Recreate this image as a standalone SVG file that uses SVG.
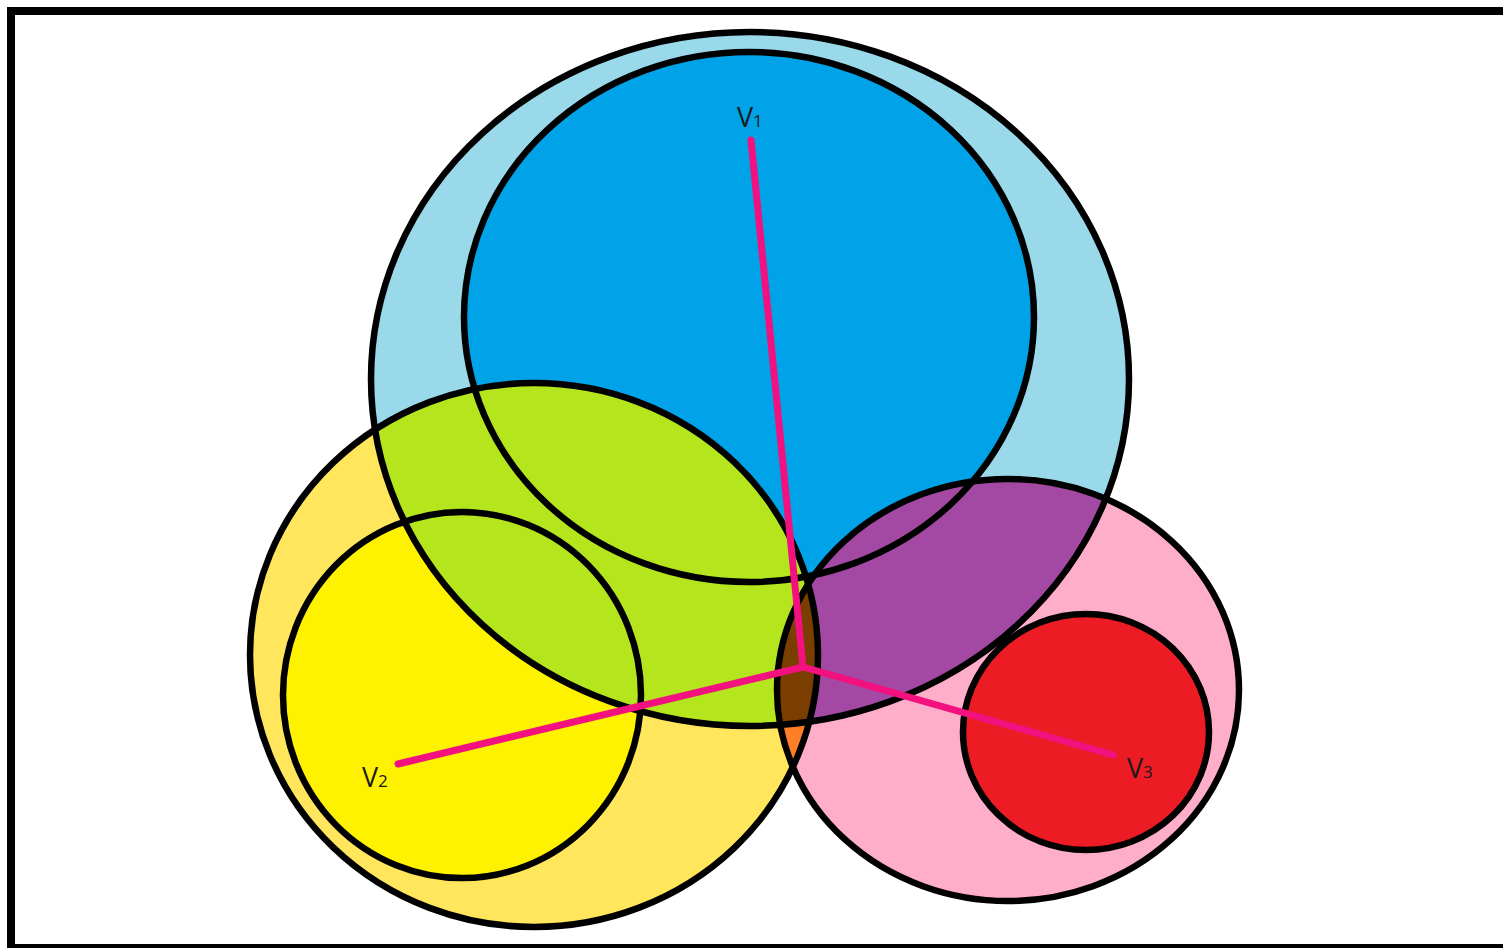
<svg xmlns="http://www.w3.org/2000/svg" width="1503" height="948" viewBox="0 0 1503 948">
  <style>
    .ol { fill: none; stroke: #000; stroke-width: 6.5; }
    .ln { stroke: #F2117E; stroke-width: 7; stroke-linecap: round; fill: none; }
    .lbl { font-family: "Open Sans", "Liberation Sans", Arial, sans-serif; font-size: 27px; fill: #1a1a1a; }
    .sub { font-size: 17px; }
  </style>
  <defs>
    <ellipse id="eLB" cx="750" cy="379" rx="379" ry="347"/>
    <ellipse id="eB" cx="749" cy="317" rx="285" ry="265"/>
    <ellipse id="eYB" cx="534" cy="655" rx="284" ry="272"/>
    <ellipse id="eYI" cx="462" cy="695" rx="179" ry="183"/>
    <ellipse id="eP" cx="1008" cy="690" rx="231" ry="211"/>
    <ellipse id="eR" cx="1086" cy="732" rx="123" ry="118"/>
    <clipPath id="cLB"><use href="#eLB"/></clipPath>
    <clipPath id="cP"><use href="#eP"/></clipPath>
  </defs>
  <rect x="0" y="0" width="1503" height="948" fill="#fff"/>
  <rect x="11" y="11" width="1500" height="937" fill="none" stroke="#000" stroke-width="8"/>

  <g id="node-outer-blue"><use href="#eLB" fill="#99D9EA"/></g>
  <g id="node-inner-blue"><use href="#eB" fill="#00A2E8"/></g>
  <g id="node-outer-yellow"><use href="#eYB" fill="#FFE65C"/></g>
  <g id="node-inner-yellow"><use href="#eYI" fill="#FFF200"/></g>
  <g id="node-outer-pink"><use href="#eP" fill="#FFAEC9"/></g>

  <g id="overlaps">
    <g clip-path="url(#cLB)"><use href="#eYB" fill="#B5E61D"/></g>
    <g clip-path="url(#cLB)"><use href="#eP" fill="#A349A4"/></g>
    <g clip-path="url(#cP)"><use href="#eYB" fill="#FF7F27"/></g>
    <g clip-path="url(#cLB)"><g clip-path="url(#cP)"><use href="#eYB" fill="#7A3E00"/></g></g>
  </g>

  <g id="node-red"><use href="#eR" fill="#ED1C24"/></g>

  <g id="outlines">
    <use href="#eLB" class="ol"/>
    <use href="#eB" class="ol"/>
    <use href="#eYB" class="ol"/>
    <use href="#eYI" class="ol"/>
    <use href="#eP" class="ol"/>
    <use href="#eR" class="ol"/>
  </g>

  <g id="connectors">
    <line class="ln" x1="751" y1="140" x2="803" y2="667"/>
    <line class="ln" x1="803" y1="667" x2="398" y2="764"/>
    <line class="ln" x1="803" y1="667" x2="1113" y2="755"/>
  </g>

  <g id="labels">
    <text class="lbl" x="737" y="127">V<tspan class="sub">1</tspan></text>
    <text class="lbl" x="362" y="787">V<tspan class="sub">2</tspan></text>
    <text class="lbl" x="1127" y="778">V<tspan class="sub">3</tspan></text>
  </g>
</svg>
